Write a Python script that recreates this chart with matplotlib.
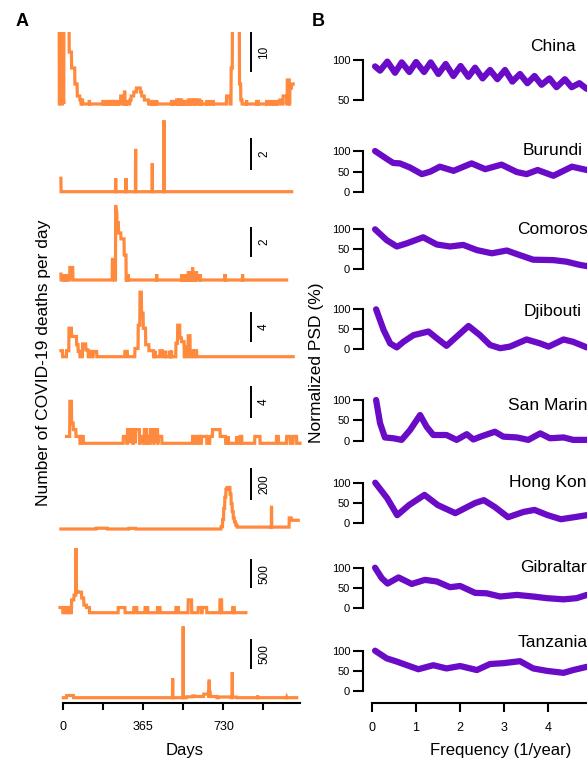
import numpy as np
import matplotlib
matplotlib.use('Agg')
import matplotlib.pyplot as plt

plt.rcParams['font.family'] = ['Liberation Sans', 'DejaVu Sans']

# ---------------- data: panel A (deaths per day, runs of (first day, last day, value)) ----------------
countries = ['China', 'Burundi', 'Comoros', 'Djibouti', 'San Marino', 'Hong Kong', 'Gibraltar', 'Tanzania']
scale_values = [10, 2, 2, 4, 4, 200, 500, 500]
day_ticks = [0, 182.5, 365, 547.5, 730, 912.5]
day_ticklabels = ['0', '', '365', '', '730', '']

china_span = (-33, 1049)
china_runs = [(-33, -19, 25), (-16, -14, 1), (-12, -6, 25), (-3, 1, 1), (3, 26, 25), (27, 37, 13),
              (38, 52, 9), (53, 63, 5), (64, 75, 2), (76, 80, 1), (84, 88, 1), (119, 119, 1),
              (182, 182, 1), (198, 198, 1), (213, 213, 1), (219, 219, 1), (225, 225, 1), (231, 231, 1),
              (236, 236, 1), (251, 251, 1), (262, 274, 2), (279, 281, 3), (289, 289, 1), (304, 309, 1),
              (310, 321, 2), (322, 333, 3), (334, 351, 4), (352, 357, 3), (358, 369, 2), (370, 388, 1),
              (403, 403, 1), (412, 412, 1), (426, 426, 1), (494, 494, 1), (502, 502, 1), (517, 519, 1),
              (527, 529, 1), (538, 540, 1), (547, 547, 1), (563, 563, 1), (570, 572, 1), (580, 585, 1),
              (593, 596, 1), (605, 608, 1), (616, 623, 1), (631, 631, 1), (654, 654, 1), (669, 669, 1),
              (684, 684, 1), (745, 760, 2), (766, 771, 9), (772, 803, 25), (804, 809, 5), (810, 815, 1),
              (836, 836, 1), (882, 882, 1), (890, 890, 1), (928, 928, 1), (943, 943, 1), (958, 958, 1),
              (973, 973, 1), (988, 1000, 1), (1003, 1019, 2), (1022, 1031, 6), (1034, 1041, 4),
              (1042, 1049, 5)]

burundi_span = (-11, 1042)
burundi_runs = [(-11, -11, 0.85), (239, 239, 0.85), (286, 286, 0.85), (330, 330, 2.7),
                (406, 406, 1.8), (459, 459, 4.5)]

comoros_span = (-11, 1019)
comoros_runs = [(-11, -11, 0.4), (3, 3, 0.4), (15, 15, 0.4), (30, 43, 0.85), (224, 233, 1.4),
                (239, 240, 5), (241, 244, 4.6), (245, 251, 3.9), (252, 262, 3.2), (263, 277, 2.8),
                (278, 286, 1.7), (289, 289, 0.4), (297, 297, 0.4), (426, 426, 0.4), (540, 540, 0.4),
                (548, 548, 0.4), (556, 556, 0.4), (563, 563, 0.4), (570, 574, 0.5), (578, 582, 0.5),
                (590, 590, 0.85), (596, 600, 0.5), (604, 608, 0.5), (624, 624, 0.4), (738, 738, 0.4),
                (818, 818, 0.4)]

djibouti_span = (-11, 1049)
djibouti_runs = [(-11, -4, 0.8), (15, 25, 0.8), (26, 37, 3.8), (38, 60, 2.7), (61, 67, 1.6),
                 (68, 75, 0.7), (88, 102, 1.7), (103, 113, 0.9), (119, 128, 0.7), (137, 152, 0.7),
                 (281, 292, 0.7), (327, 341, 1.1), (342, 349, 4.2), (350, 356, 8.6), (357, 364, 5.8),
                 (365, 375, 3.8), (376, 390, 1.6), (391, 411, 0.8), (418, 418, 0.8), (441, 452, 0.8),
                 (467, 467, 0.8), (487, 487, 0.8), (494, 494, 0.8), (514, 521, 1.8), (522, 531, 4.2),
                 (532, 539, 2.5), (540, 551, 2), (555, 563, 1.3), (570, 578, 2.8), (585, 593, 0.8),
                 (600, 608, 0.8)]

sanmarino_span = (15, 1080)
sanmarino_runs = [(15, 29, 0.85), (30, 37, 5.2), (38, 45, 2.5), (46, 57, 1.7), (58, 75, 0.85),
                  (84, 91, 0.85), (274, 289, 0.85), (293, 300, 1.7), (302, 316, 1.7), (320, 328, 0.85),
                  (330, 347, 1.7), (352, 366, 0.85), (370, 380, 1.7), (384, 395, 0.85), (398, 412, 1.7),
                  (415, 430, 1.7), (433, 449, 0.85), (590, 596, 0.85), (608, 620, 0.85), (631, 654, 0.85),
                  (669, 680, 0.85), (681, 715, 1.7), (716, 740, 0.85), (753, 753, 0.85), (791, 791, 0.85),
                  (806, 814, 0.85), (874, 897, 0.85), (973, 981, 0.85), (1019, 1034, 0.85),
                  (1049, 1064, 0.85)]

hongkong_span = (-11, 1072)
hongkong_runs = [(150, 200, 5), (300, 330, 4), (720, 726, 15), (727, 731, 60), (732, 736, 130),
                 (737, 741, 200), (742, 746, 250), (747, 760, 262), (761, 765, 220), (766, 770, 160),
                 (771, 775, 110), (776, 780, 70), (781, 786, 45), (787, 792, 25), (793, 948, 12),
                 (950, 950, 146), (951, 1030, 12), (1031, 1040, 70), (1041, 1072, 55)]

gibraltar_span = (-15, 833)
gibraltar_runs = [(-15, -3, 88), (3, 15, 88), (23, 33, 88), (38, 48, 219), (49, 57, 300), (58, 58, 1100),
                  (59, 67, 361), (68, 83, 350), (84, 93, 250), (94, 105, 130), (106, 119, 88),
                  (251, 281, 88), (322, 335, 88), (373, 385, 88), (430, 441, 88), (514, 525, 88),
                  (570, 585, 219), (616, 630, 88), (634, 654, 88), (715, 722, 219), (773, 780, 88)]

tanzania_span = (0, 1065)
tanzania_runs = [(15, 46, 36), (499, 499, 325), (547, 547, 1187), (563, 590, 15), (591, 600, 30),
                 (601, 640, 20), (641, 662, 60), (663, 663, 140), (665, 666, 280), (667, 670, 90),
                 (671, 700, 20), (710, 765, 12), (771, 771, 425), (772, 790, 10), (887, 887, 36),
                 (1019, 1019, 10)]

spans = [china_span, burundi_span, comoros_span, djibouti_span, sanmarino_span,
         hongkong_span, gibraltar_span, tanzania_span]
runs = [china_runs, burundi_runs, comoros_runs, djibouti_runs, sanmarino_runs,
        hongkong_runs, gibraltar_runs, tanzania_runs]

# ---------------- data: panel B (normalized PSD, %) ----------------
china_freq = [0.076, 0.19, 0.356, 0.53, 0.682, 0.856, 1.008, 1.19, 1.341, 1.515, 1.682, 1.856, 2.02,
              2.197, 2.35, 2.52, 2.69, 2.856, 3.03, 3.197, 3.37, 3.538, 3.70, 3.86, 4.04, 4.2, 4.39,
              4.545, 4.72, 4.886]
china_psd = [92, 86.7, 98, 84, 97, 85, 97.5, 85, 97, 82.5, 95, 80, 92.5, 79, 90.4, 77, 87.5, 76, 87.5,
             73, 82.5, 71, 80, 69, 77, 66, 76, 66, 71, 64]
burundi_freq = [0.076, 0.356, 0.49, 0.64, 0.87, 1.14, 1.33, 1.55, 1.86, 2.27, 2.58, 2.95, 3.30, 3.52,
                3.77, 4.13, 4.55, 4.89]
burundi_psd = [100, 80, 71, 70, 60, 44, 50, 62, 52, 70, 56, 67, 49, 44, 54, 40, 62, 54]
comoros_freq = [0.076, 0.34, 0.57, 0.80, 1.17, 1.48, 1.78, 2.08, 2.39, 2.73, 3.07, 3.30, 3.67, 4.13,
                4.43, 4.73, 4.89]
comoros_psd = [100, 73, 57, 65, 80, 62, 57, 61, 48, 40, 47, 38, 24, 23, 19, 11, 8]
djibouti_freq = [0.10, 0.27, 0.42, 0.57, 0.72, 0.95, 1.29, 1.48, 1.70, 1.93, 2.20, 2.46, 2.69, 2.92,
                 3.14, 3.52, 3.83, 4.02, 4.36, 4.58, 4.89]
djibouti_psd = [100, 48, 14, 4, 18, 35, 44, 27, 8, 31, 58, 35, 10, 2, 6, 24, 14, 6, 24, 18, 4]
sanmarino_freq = [0.10, 0.19, 0.30, 0.49, 0.68, 0.87, 1.10, 1.25, 1.40, 1.70, 1.93, 2.16, 2.31, 2.50,
                  2.80, 2.99, 3.30, 3.56, 3.83, 4.05, 4.36, 4.58, 4.89]
sanmarino_psd = [100, 43, 8, 6, 2, 26, 63, 34, 14, 14, 2, 16, 3, 11, 22, 10, 8, 2, 18, 6, 8, 2, 2]
hongkong_freq = [0.08, 0.35, 0.58, 0.85, 1.20, 1.50, 1.90, 2.35, 2.55, 2.80, 3.10, 3.45, 3.70, 4.00,
                 4.30, 4.60, 4.89]
hongkong_psd = [100, 62, 20, 45, 70, 45, 25, 50, 57, 40, 15, 28, 33, 20, 10, 15, 20]
gibraltar_freq = [0.076, 0.23, 0.36, 0.61, 0.91, 1.21, 1.48, 1.78, 2.01, 2.35, 2.61, 2.92, 3.30, 3.67,
                  3.98, 4.36, 4.66, 4.89]
gibraltar_psd = [100, 74, 61, 76, 60, 70, 66, 52, 55, 38, 37, 29, 33, 29, 25, 22, 25, 33]
tanzania_freq = [0.076, 0.34, 0.57, 0.80, 1.06, 1.40, 1.70, 2.01, 2.39, 2.69, 2.99, 3.37, 3.67, 3.98,
                 4.36, 4.58, 4.89]
tanzania_psd = [100, 81, 73, 64, 54, 64, 56, 62, 52, 67, 69, 74, 56, 50, 45, 52, 60]

psd_freqs = [china_freq, burundi_freq, comoros_freq, djibouti_freq, sanmarino_freq,
             hongkong_freq, gibraltar_freq, tanzania_freq]
psd_values = [china_psd, burundi_psd, comoros_psd, djibouti_psd, sanmarino_psd,
              hongkong_psd, gibraltar_psd, tanzania_psd]
freq_ticks = [0, 1, 2, 3, 4]

# ---------------- layout (pixels of the 587x760 image) ----------------
W, H = 587, 760
fig = plt.figure(figsize=(W / 100, H / 100), dpi=100)
ORANGE = '#FF8A3D'
PURPLE = '#6A0BC8'


def px_axes(x0, y0, x1, y1):
    return fig.add_axes([x0 / W, 1 - y1 / H, (x1 - x0) / W, (y1 - y0) / H])


# panel A rows: baseline px, scale bar bottom px, scale bar top px
a_base = [104, 191.7, 280, 356.7, 443.3, 529, 612.7, 697.7]
a_bar = [(72, 32), (170, 138.3), (256.7, 227.3), (341.7, 311.7), (418.3, 386),
         (500, 468.3), (588.3, 559), (669, 639)]
A_X0, A_X1, X_ZERO, PX_PER_DAY = 50, 300, 63.3, 80 / 365
day_lo = (A_X0 - X_ZERO) / PX_PER_DAY
day_hi = (A_X1 - X_ZERO) / PX_PER_DAY

for i in range(8):
    b = a_base[i]
    bar_lo_px, bar_hi_px = a_bar[i]
    ppu = (bar_lo_px - bar_hi_px) / scale_values[i]
    top = 32 if i == 0 else b - 95
    bottom = 703 if i == 7 else b + 4
    ax = px_axes(A_X0, top, A_X1, bottom)
    ax.set_xlim(day_lo, day_hi)
    ax.set_ylim((b - bottom) / ppu, (b - top) / ppu)

    d0, d1 = spans[i]
    days = np.arange(d0, d1 + 1)
    vals = np.zeros(len(days))
    for r0, r1, v in runs[i]:
        vals[(days >= r0) & (days <= r1)] = v
    ax.plot(days, vals, color=ORANGE, lw=2.3, solid_joinstyle='miter', clip_on=(i == 0))

    # scale bar
    xb = (250.7 - X_ZERO) / PX_PER_DAY
    yb = (b - bar_lo_px) / ppu
    ax.plot([xb, xb], [yb, yb + scale_values[i]], color='black', lw=1.4, clip_on=False,
            solid_capstyle='butt')
    ax.text((264 - X_ZERO) / PX_PER_DAY, yb + scale_values[i] / 2, str(scale_values[i]),
            rotation=90, ha='center', va='center', fontsize=8.5)

    for s in ['top', 'right', 'left']:
        ax.spines[s].set_visible(False)
    ax.set_yticks([])
    if i == 7:
        ax.spines['bottom'].set_linewidth(1.5)
        ax.spines['bottom'].set_bounds(0, day_hi)
        ax.set_xticks(day_ticks)
        ax.set_xticklabels(day_ticklabels, fontsize=9)
        ax.tick_params(axis='x', length=5, width=1.5, pad=8)
    else:
        ax.spines['bottom'].set_visible(False)
        ax.set_xticks([])
    ax.patch.set_visible(False)

# panel B rows: px of top tick (100) and bottom tick (0 or 50)
b_rows = [(60, 100), (151, 192.3), (229.3, 269.3), (309.3, 349), (400, 440.7),
          (482.7, 523.3), (567.7, 608.3), (650.7, 691)]
title_y = [46.7, 150.7, 229, 311.7, 406, 482.7, 568, 642.7]
B_X0, PX_PER_F = 371.7, 44
B_X1 = 734.3
f_hi = (B_X1 - B_X0) / PX_PER_F

for i in range(8):
    y0, y1 = b_rows[i]
    ax = px_axes(B_X0, y0, B_X1, y1)
    ax.set_xlim(0, f_hi)
    lo = 50 if i == 0 else 0
    ax.set_ylim(lo, 100)
    ax.plot(psd_freqs[i], psd_values[i], color=PURPLE, lw=4.5, solid_joinstyle='round',
            solid_capstyle='round', clip_on=False)
    ax.set_yticks([50, 100] if i == 0 else [0, 50, 100])
    ax.tick_params(axis='y', length=7, width=1.5, pad=2, labelsize=8)
    ax.spines['left'].set_position(('outward', 6.5))
    ax.spines['left'].set_linewidth(1.5)
    for s in ['top', 'right']:
        ax.spines[s].set_visible(False)
    if i == 7:
        ax.spines['bottom'].set_position(('outward', 8.4))
        ax.spines['bottom'].set_linewidth(1.5)
        ax.spines['bottom'].set_bounds(0, f_hi)
        ax.set_xticks(freq_ticks)
        ax.set_xticklabels([str(t) for t in freq_ticks], fontsize=9)
        ax.tick_params(axis='x', length=6.7, width=1.5, pad=7.5)
    else:
        ax.spines['bottom'].set_visible(False)
        ax.set_xticks([])
    ax.patch.set_visible(False)
    fig.text(553 / W, 1 - title_y[i] / H, countries[i], ha='center', va='center', fontsize=12.5)

# labels
fig.text(22 / W, 1 - 22 / H, 'A', fontsize=13, fontweight='bold', ha='center', va='center')
fig.text(318 / W, 1 - 22 / H, 'B', fontsize=13, fontweight='bold', ha='center', va='center')
fig.text(44 / W, 1 - 363 / H, 'Number of COVID-19 deaths per day', rotation=90,
         ha='center', va='center', fontsize=12.5)
fig.text(316 / W, 1 - 363 / H, 'Normalized PSD (%)', rotation=90, ha='center', va='center',
         fontsize=12.5)
fig.text(185 / W, 1 - 750 / H, 'Days', ha='center', va='center', fontsize=12)
fig.text(501 / W, 1 - 750 / H, 'Frequency (1/year)', ha='center', va='center', fontsize=12)

fig.savefig('out.png', dpi=100)
